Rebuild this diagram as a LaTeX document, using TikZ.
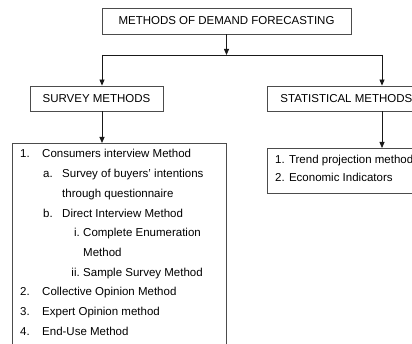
\documentclass[tikz,border=0pt]{standalone}
\usepackage{fontspec}
\setmainfont{Liberation Sans}
\usetikzlibrary{arrows.meta}
\begin{document}
\begin{tikzpicture}[x=1pt,y=-1pt,
  box/.style={draw=black!70,line width=0.8pt,inner sep=0pt,font=\fontsize{11.5}{13}\selectfont},
  conn/.style={draw=black!90,line width=0.8pt},
  arr/.style={conn,-{Triangle[width=5pt,length=6pt]}},
  txt/.style={inner sep=0pt,anchor=base west,font=\fontsize{11.5}{13}\selectfont},
  txtr/.style={inner sep=0pt,anchor=base east,font=\fontsize{11.5}{13}\selectfont}]
\useasboundingbox (0,0) rectangle (412,344);
\clip (0,0) rectangle (412,344);
% boxes
\node[box,minimum width=249pt,minimum height=26pt] (top) at (226.5,21) {METHODS OF DEMAND FORECASTING};
\node[box,minimum width=133pt,minimum height=25pt] (survey) at (96.5,98.5) {SURVEY METHODS};
\node[box,minimum width=158pt,minimum height=25pt,anchor=west] (stat) at (267,98.5) {STATISTICAL METHODS};
\node[box,minimum width=214pt,minimum height=230pt,anchor=north west] (slist) at (12,143) {};
\node[box,minimum width=160pt,minimum height=45pt,anchor=north west] (tlist) at (267,148) {};
% junction
\coordinate (jc) at (226.5,55);
\coordinate (jl) at (102,55);
\coordinate (jr) at (382,55);
\draw[arr] (top.south) -- (jc);
\draw[conn] (jl) -- (jr);
\draw[arr] (jl) -- (jl |- survey.north);
\draw[arr] (jr) -- (jr |- stat.north);
\draw[arr] (jl |- survey.south) -- (jl |- slist.north);
\draw[arr] (jr |- stat.south) -- (jr |- tlist.north);
% survey list
\node[txt] (n1) at (20,158) {1.};
\node[txt] (t1) at (42,158) {Consumers interview Method};
\node[txt] (na) at (43,178) {a.};
\node[txt] (ta) at (62,178) {Survey of buyers’ intentions};
\node[txt] (ta2) at (62,198) {through questionnaire};
\node[txt] (nb) at (43,218) {b.};
\node[txt] (tb) at (62,218) {Direct Interview Method};
\node[txtr] (ni) at (80,237) {i.};
\node[txt] (ti) at (83,237) {Complete Enumeration};
\node[txt] (ti2) at (83,257) {Method};
\node[txtr] (nii) at (80,277) {ii.};
\node[txt] (tii) at (83,277) {Sample Survey Method};
\node[txt] (n2) at (20,296) {2.};
\node[txt] (t2) at (42,296) {Collective Opinion Method};
\node[txt] (n3) at (20,316) {3.};
\node[txt] (t3) at (42,316) {Expert Opinion method};
\node[txt] (n4) at (20,336) {4.};
\node[txt] (t4) at (42,336) {End-Use Method};
% statistical list
\node[txt] (s1) at (275,164) {1. Trend projection method};
\node[txt] (s2) at (275,182) {2. Economic Indicators};
\end{tikzpicture}
\end{document}
